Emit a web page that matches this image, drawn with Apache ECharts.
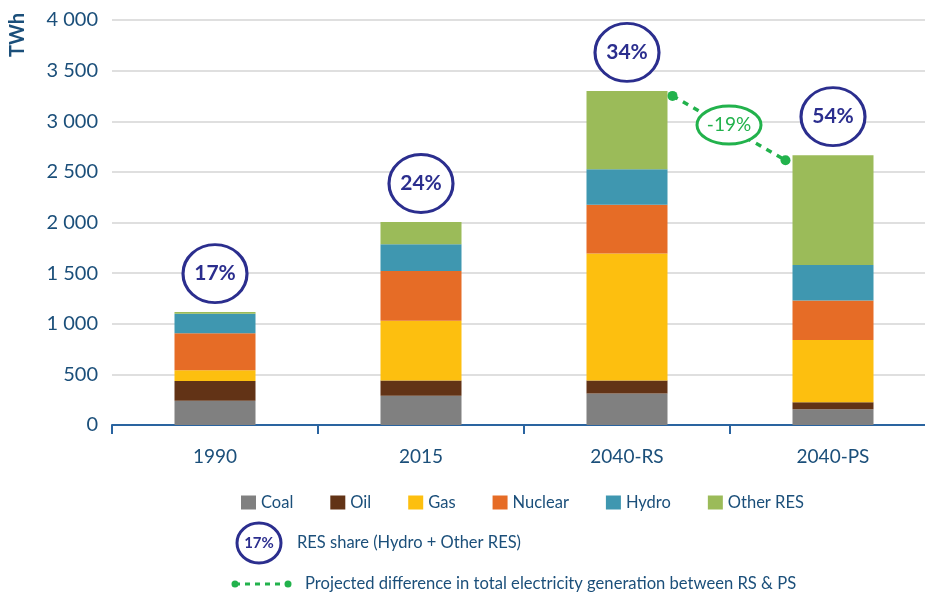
<!DOCTYPE html>
<html>
<head>
<meta charset="utf-8">
<script src="https://cdn.jsdelivr.net/npm/echarts@6/dist/echarts.min.js"></script>
<style>
    html, body { margin: 0; padding: 0; background: #fff; }
    #chart { width: 925px; height: 593px; }
</style>
</head>
<body>
<div id="chart"></div>
<script>
    // data (TWh)
    const categories = ['1990', '2015', '2040-RS', '2040-PS'];
    const coal = [240, 290, 310, 155];
    const oil = [195, 150, 130, 70];
    const gas = [105, 590, 1255, 615];
    const nuclear = [365, 490, 480, 390];
    const hydro = [195, 265, 350, 350];
    const otherRes = [15, 220, 775, 1085];
    const resShare = ['17%', '24%', '34%', '54%'];
    const diffLabel = '-19%';
    const yTicks = [0, 500, 1000, 1500, 2000, 2500, 3000, 3500, 4000];

    const navy = '#2b2e8e';
    const green = '#22b24c';
    const textBlue = '#1b4f7a';
    const font = 'Lato';

    const seriesDefs = [
        { name: 'Coal', data: coal, color: '#808080' },
        { name: 'Oil', data: oil, color: '#623316' },
        { name: 'Gas', data: gas, color: '#fdbf0f' },
        { name: 'Nuclear', data: nuclear, color: '#e66c26' },
        { name: 'Hydro', data: hydro, color: '#3f97b0' },
        { name: 'Other RES', data: otherRes, color: '#9bbb59' }
    ];

    const totals = categories.map((c, i) =>
        seriesDefs.reduce((s, d) => s + d.data[i], 0));

    const barWidth = 81;

    let myChart = echarts.init(document.getElementById('chart'));

    let option = {
        animation: false,
        textStyle: { fontFamily: font },
        grid: { left: 112, top: 20, width: 824, height: 405, outerBoundsMode: 'none', containLabel: false },
        legend: {
            data: seriesDefs.map(d => d.name),
            left: 236,
            top: 489,
            icon: 'rect',
            itemWidth: 15,
            itemHeight: 14,
            itemGap: 37,
            textStyle: { color: textBlue, fontSize: 16.5, fontFamily: font }
        },
        xAxis: {
            type: 'category',
            data: categories,
            axisLine: { lineStyle: { color: '#2a64a0', width: 2 } },
            axisTick: { show: true, alignWithLabel: false, length: 9, lineStyle: { color: '#2a64a0', width: 2 } },
            axisLabel: { color: textBlue, fontSize: 19, margin: 22 }
        },
        yAxis: {
            type: 'value',
            min: yTicks[0],
            max: yTicks[yTicks.length - 1],
            interval: yTicks[1] - yTicks[0],
            axisLine: { show: false },
            axisTick: { show: false },
            splitLine: { lineStyle: { color: '#d4d4d4', width: 1.5 } },
            axisLabel: {
                color: textBlue,
                fontSize: 20,
                margin: 14,
                formatter: v => String(v).replace(/\B(?=(\d{3})+(?!\d))/g, ' ')
            }
        },
        series: seriesDefs.map(d => ({
            name: d.name,
            type: 'bar',
            stack: 'total',
            barWidth: barWidth,
            data: d.data,
            itemStyle: { color: d.color }
        })).concat([
            {
                // RES share circles above each bar
                type: 'scatter',
                data: categories.map((c, i) => [i, totals[i] + 380]),
                symbol: 'circle',
                symbolSize: [64, 58],
                itemStyle: { color: '#fff', borderColor: navy, borderWidth: 3, opacity: 1 },
                label: {
                    show: true,
                    position: 'inside',
                    formatter: p => resShare[p.dataIndex],
                    color: navy,
                    fontWeight: 'bold',
                    fontSize: 21,
                    fontFamily: font
                },
                z: 5
            },
            {
                // dotted connector between RS and PS totals
                type: 'custom',
                data: [[2, totals[2], 3, totals[3]]],
                z: 6,
                renderItem: function (params, api) {
                    let p1 = api.coord([api.value(0), api.value(1)]);
                    let p2 = api.coord([api.value(2), api.value(3)]);
                    let x1 = p1[0] + barWidth / 2 + 5, y1 = p1[1] + 5;
                    let x2 = p2[0] - barWidth / 2 - 7, y2 = p2[1] + 5;
                    let mx = (x1 + x2) / 2, my = (y1 + y2) / 2 - 3;
                    return {
                        type: 'group',
                        children: [
                            { type: 'line', shape: { x1: x1, y1: y1, x2: x2, y2: y2 },
                              style: { stroke: green, lineWidth: 3.5, lineDash: [6, 6] } },
                            { type: 'circle', shape: { cx: x1, cy: y1, r: 5 }, style: { fill: green } },
                            { type: 'circle', shape: { cx: x2, cy: y2, r: 5 }, style: { fill: green } },
                            { type: 'ellipse', shape: { cx: mx, cy: my, rx: 32, ry: 19 },
                              style: { fill: '#fff', stroke: green, lineWidth: 3 } },
                            { type: 'text', x: mx, y: my,
                              style: { text: diffLabel, fill: green, font: '19px ' + font,
                                       align: 'center', verticalAlign: 'middle' } }
                        ]
                    };
                }
            }
        ]),
        graphic: [
            {
                type: 'text', x: 18, y: 35, rotation: Math.PI / 2,
                style: { text: 'TWh', fill: textBlue, font: 'bold 20px ' + font,
                         align: 'center', verticalAlign: 'middle' }
            },
            {
                type: 'ellipse', shape: { cx: 259, cy: 543, rx: 22, ry: 20 },
                style: { fill: '#fff', stroke: navy, lineWidth: 3 }
            },
            {
                type: 'text', x: 259, y: 543,
                style: { text: resShare[0], fill: navy, font: 'bold 15px ' + font,
                         align: 'center', verticalAlign: 'middle' }
            },
            {
                type: 'text', x: 297, y: 543,
                style: { text: 'RES share (Hydro + Other RES)', fill: textBlue, font: '16.5px ' + font,
                         verticalAlign: 'middle' }
            },
            {
                type: 'line', shape: { x1: 235, y1: 584, x2: 288, y2: 584 },
                style: { stroke: green, lineWidth: 3, lineDash: [5, 5] }
            },
            { type: 'circle', shape: { cx: 235, cy: 584, r: 3.5 }, style: { fill: green } },
            { type: 'circle', shape: { cx: 288, cy: 584, r: 3.5 }, style: { fill: green } },
            {
                type: 'text', x: 305, y: 584,
                style: { text: 'Projected difference in total electricity generation between RS & PS',
                         fill: textBlue, font: '16.6px ' + font, verticalAlign: 'middle' }
            }
        ]
    };
    myChart.setOption(option);
</script>
</body>
</html>
